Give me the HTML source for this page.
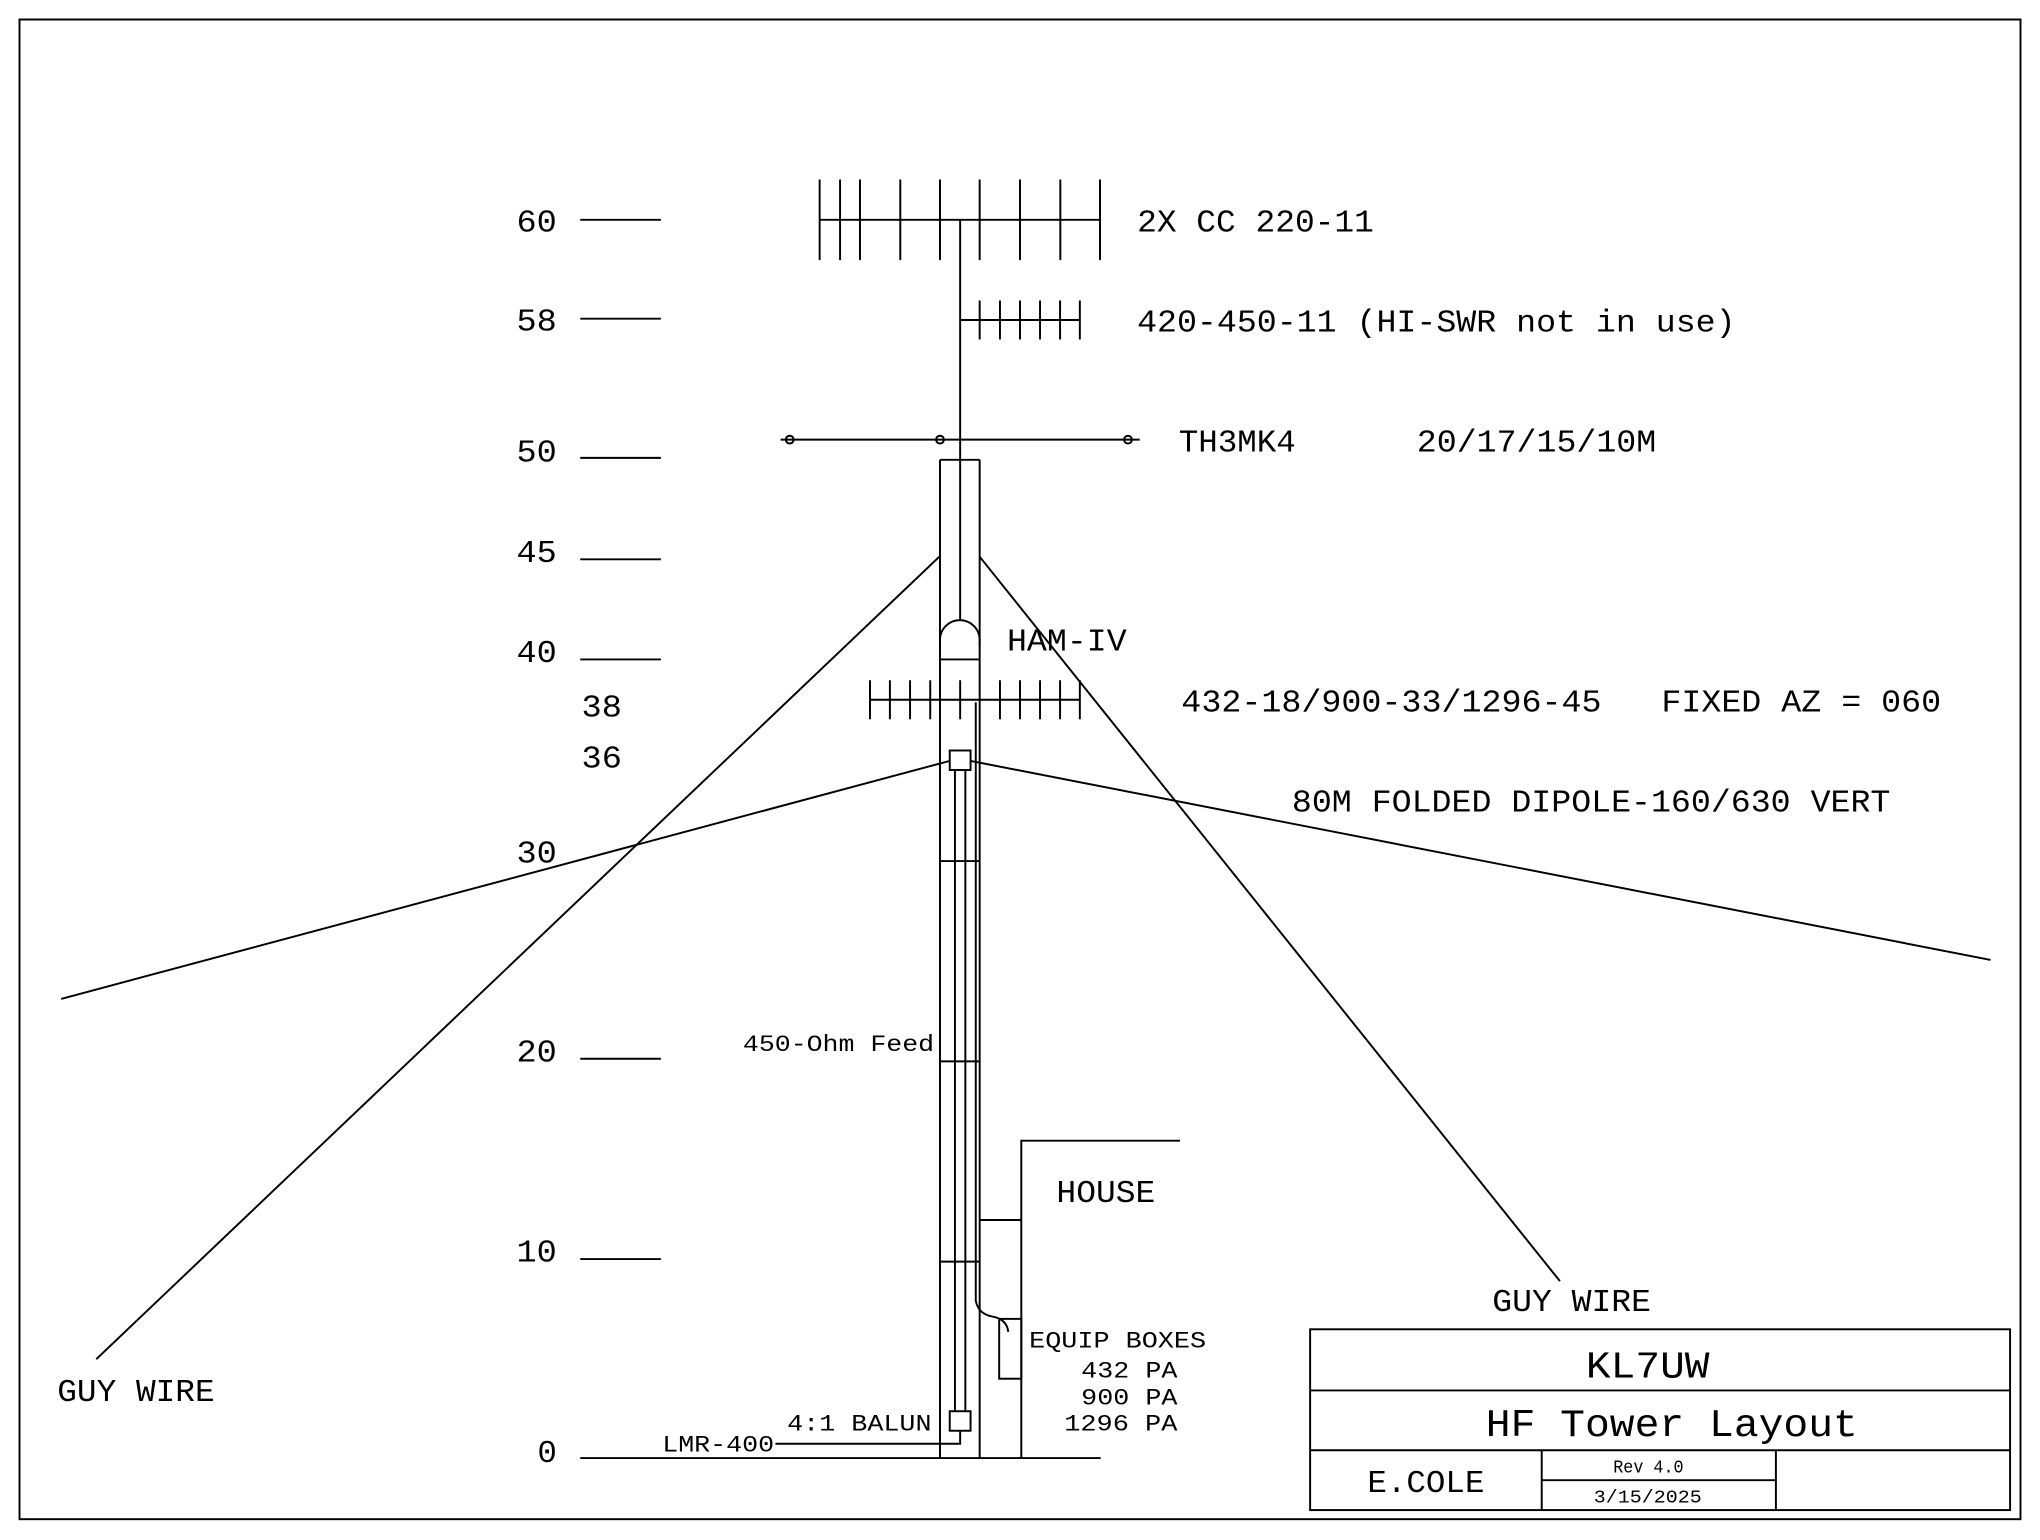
<!DOCTYPE html>
<html><head><meta charset="utf-8"><style>
html,body{margin:0;padding:0;background:#fff;}
svg{display:block;}
text{font-family:"Liberation Mono","DejaVu Sans Mono",monospace;fill:#000;}
</style></head><body>
<svg width="2040" height="1540" viewBox="0 0 1568 1184" preserveAspectRatio="none" xmlns="http://www.w3.org/2000/svg">
<rect x="0" y="0" width="1568" height="1184" fill="#fff"/>
<g stroke="#000" stroke-width="1.5" fill="none">
<rect x="15" y="15" width="1538" height="1153"/>
<!-- scale ticks -->
<line x1="446" y1="169" x2="508" y2="169"/>
<line x1="446" y1="245" x2="508" y2="245"/>
<line x1="446" y1="352" x2="508" y2="352"/>
<line x1="446" y1="430" x2="508" y2="430"/>
<line x1="446" y1="507" x2="508" y2="507"/>
<line x1="446" y1="814" x2="508" y2="814"/>
<line x1="446" y1="968" x2="508" y2="968"/>
<line x1="446" y1="1121" x2="846" y2="1121"/>
<!-- top yagi -->
<line x1="630" y1="169" x2="845" y2="169"/>
<g>
<line x1="630" y1="138" x2="630" y2="200"/><line x1="645.7" y1="138" x2="645.7" y2="200"/>
<line x1="661" y1="138" x2="661" y2="200"/><line x1="692" y1="138" x2="692" y2="200"/>
<line x1="722.5" y1="138" x2="722.5" y2="200"/><line x1="753" y1="138" x2="753" y2="200"/>
<line x1="784" y1="138" x2="784" y2="200"/><line x1="815" y1="138" x2="815" y2="200"/>
<line x1="845.5" y1="138" x2="845.5" y2="200"/>
</g>
<!-- mast -->
<line x1="738" y1="169" x2="738" y2="477"/>
<!-- 2nd yagi -->
<line x1="738" y1="246" x2="830" y2="246"/>
<line x1="753" y1="231" x2="753" y2="261"/><line x1="768.6" y1="231" x2="768.6" y2="261"/>
<line x1="784" y1="231" x2="784" y2="261"/><line x1="799.4" y1="231" x2="799.4" y2="261"/>
<line x1="814.8" y1="231" x2="814.8" y2="261"/><line x1="830" y1="231" x2="830" y2="261"/>
<!-- TH3 -->
<line x1="600" y1="338" x2="876" y2="338"/>
<circle cx="607" cy="338" r="3"/><circle cx="722.5" cy="338" r="3"/><circle cx="867" cy="338" r="3"/>
<!-- tower -->
<line x1="722.5" y1="353.5" x2="753" y2="353.5"/>
<line x1="722.5" y1="353.5" x2="722.5" y2="1121"/>
<line x1="753" y1="353.5" x2="753" y2="1121"/>
<path d="M722.5 496 L722.5 492 A15.25 15.25 0 0 1 753 492 L753 496"/>
<line x1="722.5" y1="507" x2="753" y2="507"/>
<line x1="722.5" y1="662" x2="753" y2="662"/>
<line x1="722.5" y1="816" x2="753" y2="816"/>
<line x1="722.5" y1="970" x2="753" y2="970"/>
<!-- lower yagi -->
<line x1="668.7" y1="538" x2="830" y2="538"/>
<line x1="668.7" y1="523" x2="668.7" y2="553"/><line x1="684" y1="523" x2="684" y2="553"/>
<line x1="699.5" y1="523" x2="699.5" y2="553"/><line x1="715" y1="523" x2="715" y2="553"/>
<line x1="738" y1="523" x2="738" y2="553"/><line x1="768.6" y1="523" x2="768.6" y2="553"/>
<line x1="784" y1="523" x2="784" y2="553"/><line x1="799.4" y1="523" x2="799.4" y2="553"/>
<line x1="814.8" y1="523" x2="814.8" y2="553"/><line x1="830" y1="523" x2="830" y2="553"/>
<!-- feed/balun -->
<rect x="730" y="577" width="16" height="15"/>
<line x1="734" y1="592" x2="734" y2="1085"/>
<line x1="742" y1="592" x2="742" y2="1085"/>
<rect x="730" y="1085" width="16" height="15"/>
<path d="M738 1100 L738 1110 L596 1110"/>
<path d="M750 540 L750 1000 Q752 1010 762 1012 Q774 1014 775 1024"/>
<!-- dipole -->
<line x1="730" y1="585" x2="47" y2="768"/>
<line x1="746" y1="585" x2="1530" y2="738"/>
<!-- guy wires -->
<line x1="722" y1="428" x2="74" y2="1045"/>
<line x1="753" y1="428" x2="1199" y2="985"/>
<!-- house -->
<path d="M907 877 L785 877 L785 1121"/>
<line x1="753" y1="938" x2="785" y2="938"/>
<rect x="768" y="1014" width="17" height="46"/>
<!-- title block -->
<rect x="1007" y="1022" width="538" height="139"/>
<line x1="1007" y1="1069" x2="1545" y2="1069"/>
<line x1="1007" y1="1115" x2="1545" y2="1115"/>
<line x1="1185" y1="1115" x2="1185" y2="1161"/>
<line x1="1365" y1="1115" x2="1365" y2="1161"/>
<line x1="1185" y1="1138" x2="1365" y2="1138"/>
</g>
<g font-size="24">
<text x="397" y="178" textLength="31" lengthAdjust="spacingAndGlyphs">60</text>
<text x="397" y="254" textLength="31" lengthAdjust="spacingAndGlyphs">58</text>
<text x="397" y="355" textLength="31" lengthAdjust="spacingAndGlyphs">50</text>
<text x="397" y="432" textLength="31" lengthAdjust="spacingAndGlyphs">45</text>
<text x="397" y="509" textLength="31" lengthAdjust="spacingAndGlyphs">40</text>
<text x="447" y="551" textLength="31" lengthAdjust="spacingAndGlyphs">38</text>
<text x="447" y="590" textLength="31" lengthAdjust="spacingAndGlyphs">36</text>
<text x="397" y="663" textLength="31" lengthAdjust="spacingAndGlyphs">30</text>
<text x="397" y="816" textLength="31" lengthAdjust="spacingAndGlyphs">20</text>
<text x="397" y="970" textLength="31" lengthAdjust="spacingAndGlyphs">10</text>
<text x="413" y="1124" textLength="15" lengthAdjust="spacingAndGlyphs">0</text>
<text x="874" y="178" textLength="182" lengthAdjust="spacingAndGlyphs">2X CC 220-11</text>
<text x="874" y="255" textLength="460" lengthAdjust="spacingAndGlyphs">420-450-11 (HI-SWR not in use)</text>
<text x="906" y="347" textLength="90" lengthAdjust="spacingAndGlyphs">TH3MK4</text>
<text x="1089" y="347" textLength="184" lengthAdjust="spacingAndGlyphs">20/17/15/10M</text>
<text x="774" y="500" textLength="92" lengthAdjust="spacingAndGlyphs">HAM-IV</text>
<text x="908" y="547" textLength="323" lengthAdjust="spacingAndGlyphs">432-18/900-33/1296-45</text>
<text x="1277" y="547" textLength="215" lengthAdjust="spacingAndGlyphs">FIXED AZ = 060</text>
<text x="993" y="624" textLength="460" lengthAdjust="spacingAndGlyphs">80M FOLDED DIPOLE-160/630 VERT</text>
<text x="812" y="924" textLength="76" lengthAdjust="spacingAndGlyphs">HOUSE</text>
<text x="1147" y="1008" textLength="122" lengthAdjust="spacingAndGlyphs">GUY WIRE</text>
<text x="44" y="1077" textLength="121" lengthAdjust="spacingAndGlyphs">GUY WIRE</text>
<text x="1051" y="1147" textLength="90" lengthAdjust="spacingAndGlyphs">E.COLE</text>
</g>
<g font-size="18">
<text x="571" y="808" textLength="147" lengthAdjust="spacingAndGlyphs">450-Ohm Feed</text>
<text x="791" y="1036" textLength="136" lengthAdjust="spacingAndGlyphs">EQUIP BOXES</text>
<text x="831" y="1059" textLength="74" lengthAdjust="spacingAndGlyphs">432 PA</text>
<text x="831" y="1080" textLength="74" lengthAdjust="spacingAndGlyphs">900 PA</text>
<text x="818" y="1100" textLength="87" lengthAdjust="spacingAndGlyphs">1296 PA</text>
<text x="605" y="1100" textLength="111" lengthAdjust="spacingAndGlyphs">4:1 BALUN</text>
<text x="509" y="1116" textLength="86" lengthAdjust="spacingAndGlyphs">LMR-400</text>
</g>
<text x="1219" y="1059" font-size="29" textLength="95" lengthAdjust="spacingAndGlyphs">KL7UW</text>
<text x="1142" y="1104" font-size="30" textLength="286" lengthAdjust="spacingAndGlyphs">HF Tower Layout</text>
<text x="1240" y="1132" font-size="14" textLength="54" lengthAdjust="spacingAndGlyphs">Rev 4.0</text>
<text x="1225" y="1155" font-size="14" textLength="83" lengthAdjust="spacingAndGlyphs">3/15/2025</text>
</svg>
</body></html>
